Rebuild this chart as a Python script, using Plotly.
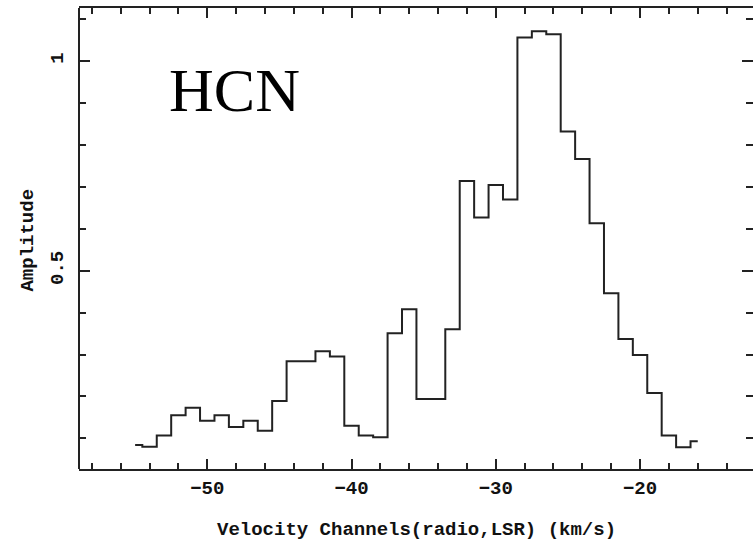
import plotly.graph_objects as go

velocity = [-55, -54, -53, -52, -51, -50, -49, -48, -47, -46,
            -45, -44, -43, -42, -41, -40, -39, -38, -37, -36,
            -35, -34, -33, -32, -31, -30, -29, -28, -27, -26,
            -25, -24, -23, -22, -21, -20, -19, -18, -17, -16]
amplitude = [0.084, 0.080, 0.107, 0.155, 0.173, 0.142, 0.155, 0.127, 0.142, 0.118,
             0.189, 0.284, 0.284, 0.308, 0.295, 0.130, 0.107, 0.103, 0.351, 0.408,
             0.194, 0.194, 0.360, 0.714, 0.627, 0.704, 0.670, 1.056, 1.071, 1.064,
             0.832, 0.766, 0.613, 0.446, 0.337, 0.299, 0.208, 0.107, 0.079, 0.093]

ink = "#222222"
mono = "Liberation Mono"
tick_font = dict(family=mono, size=19, color="#111", weight="bold")
title_font = dict(family=mono, size=19, color="#111", weight="bold")

fig = go.Figure()
fig.add_trace(go.Scatter(x=velocity, y=amplitude, mode="lines",
                         line=dict(shape="hvh", color=ink, width=2),
                         showlegend=False, hoverinfo="skip"))

fig.add_annotation(x=-48.08, y=0.930, xref="x", yref="y", text="HCN",
                   showarrow=False, xanchor="center", yanchor="middle",
                   font=dict(family="Liberation Serif", size=62, color="black"))

fig.add_annotation(x=0.5007, y=-0.1323, xref="paper", yref="paper",
                   text="Velocity Channels(radio,LSR) (km/s)",
                   showarrow=False, xanchor="center", yanchor="middle", font=title_font)
fig.add_annotation(x=-0.0749, y=0.4967, xref="paper", yref="paper",
                   text="Amplitude", textangle=-90,
                   showarrow=False, xanchor="center", yanchor="middle", font=title_font)

# left frame edge (right edge falls outside the picture)
fig.add_shape(type="line", xref="paper", yref="paper", x0=0, x1=0, y0=0, y1=1,
              line=dict(color=ink, width=2))

fig.update_layout(
    width=753, height=541,
    margin=dict(l=79, r=0, t=8, b=72),
    paper_bgcolor="white", plot_bgcolor="white",
    xaxis=dict(range=[-58.89, -12.17], tick0=0, dtick=10,
               ticks="inside", ticklen=10, tickwidth=2, tickcolor=ink,
               showline=True, linewidth=2, linecolor=ink, mirror="ticks",
               showgrid=False, zeroline=False, tickfont=tick_font,
               minor=dict(dtick=2, ticks="inside", ticklen=6, tickwidth=2, tickcolor=ink, showgrid=False)),
    yaxis=dict(range=[0.027, 1.1264], tick0=0, dtick=0.5, tickangle=-90,
               ticks="inside", ticklen=11, tickwidth=2, tickcolor=ink,
               showline=False, mirror="ticks", ticklabelstandoff=11,
               showgrid=False, zeroline=False, tickfont=tick_font,
               minor=dict(dtick=0.1, ticks="inside", ticklen=7, tickwidth=2, tickcolor=ink, showgrid=False)),
)

fig.write_html("out.html")
